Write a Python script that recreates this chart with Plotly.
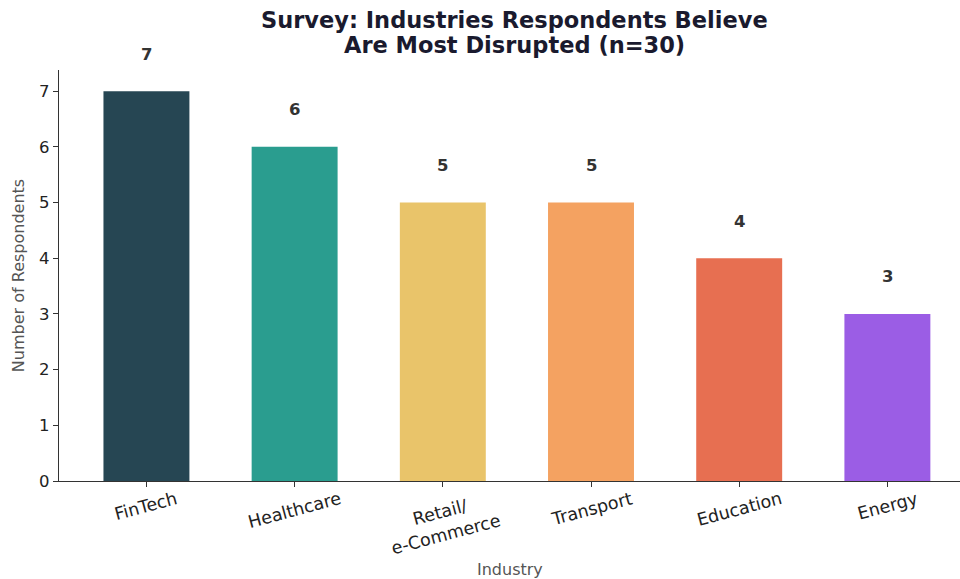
import plotly.graph_objects as go

# Survey results: industries respondents believe are most disrupted (n=30)
industries = ["FinTech", "Healthcare", "Retail/<br>e-Commerce", "Transport", "Education", "Energy"]
respondents = [7, 6, 5, 5, 4, 3]
bar_colors = ["#264653", "#2a9d8f", "#e9c46a", "#f4a261", "#e76f51", "#9b5de5"]
y_ticks = [0, 1, 2, 3, 4, 5, 6, 7]
title_lines = ["Survey: Industries Respondents Believe", "Are Most Disrupted (n=30)"]

font_family = "DejaVu Sans, Arial, sans-serif"
positions = list(range(len(industries)))

fig = go.Figure()
fig.add_trace(go.Bar(
    x=positions,
    y=respondents,
    width=0.58,
    marker=dict(color=bar_colors, line=dict(width=0)),
    hoverinfo="skip",
))

# Value labels above each bar
for i, v in zip(positions, respondents):
    fig.add_annotation(
        x=i, y=v, xref="x", yref="y",
        text=f"<b>{v}</b>", showarrow=False,
        yanchor="middle", yshift=37,
        font=dict(family=font_family, size=16.5, color="#333333"),
    )

# Category labels, rotated and centred under each tick
for i, name in zip(positions, industries):
    fig.add_annotation(
        x=i, y=0, xref="x", yref="paper",
        text=name, showarrow=False, textangle=-15,
        xanchor="center", yanchor="top", yshift=-5,
        align="center",
        font=dict(family=font_family, size=17.5, color="#222222"),
    )

# x-axis title
fig.add_annotation(
    x=0.5, y=0, xref="paper", yref="paper",
    text="Industry", showarrow=False,
    xanchor="center", yanchor="middle", yshift=-88,
    font=dict(family=font_family, size=16, color="#555555"),
)

# Two-line chart title above the plot area (one annotation per line)
for line, shift in zip(title_lines, [50, 25]):
    fig.add_annotation(
        x=0.506, y=1, xref="paper", yref="paper",
        text=f"<b>{line}</b>",
        showarrow=False, xanchor="center", yanchor="middle", yshift=shift,
        font=dict(family=font_family, size=22.5, color="#1a1a2e"),
    )

fig.update_layout(
    width=960, height=579,
    margin=dict(l=59, r=0, t=70, b=98),
    paper_bgcolor="white", plot_bgcolor="white",
    showlegend=False,
    font=dict(family=font_family, color="#222222"),
    xaxis=dict(
        range=[-0.59, 5.49],
        tickmode="array",
        tickvals=positions,
        ticktext=["" for _ in industries],
        ticks="outside", ticklen=5, tickcolor="#333333", tickwidth=1,
        showline=True, linecolor="#333333", linewidth=1.3,
        showgrid=False, zeroline=False,
    ),
    yaxis=dict(
        range=[0, 7.38],
        tickmode="array", tickvals=y_ticks,
        tickfont=dict(size=16.5, color="#222222"),
        ticks="outside", ticklen=5, tickcolor="#333333", tickwidth=1,
        showline=True, linecolor="#333333", linewidth=1.3,
        showgrid=False, zeroline=False,
        title=dict(text="Number of Respondents", standoff=10,
                   font=dict(size=16, color="#555555")),
    ),
)

fig.write_html("out.html")
